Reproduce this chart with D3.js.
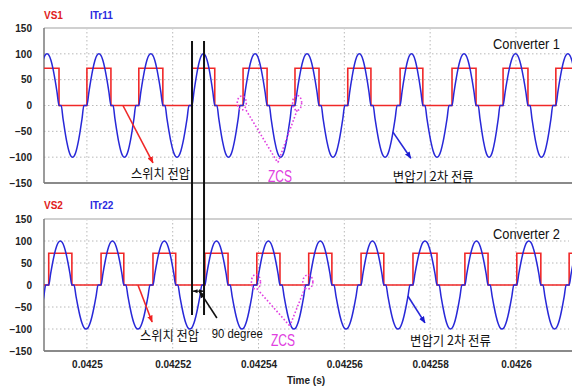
<!DOCTYPE html>
<html>
<head>
<meta charset="utf-8">
<script src="https://cdn.jsdelivr.net/npm/d3@7"></script>
<style>
  body { margin: 0; background: #fff; }
  svg { display: block; }
</style>
</head>
<body>
<div id="chart"></div>
<script>
// Axis ticks
const xTicks = [0.0425, 0.04252, 0.04254, 0.04256, 0.04258, 0.0426];
const xTickLabels = ["0.0425", "0.04252", "0.04254", "0.04256", "0.04258", "0.0426"];
const yTicks = [150, 100, 50, 0, -50, -100, -150];

// Switch voltage edges (seconds)
const vs1Rise = [0.0424879, 0.0425000, 0.0425121, 0.0425245, 0.0425364, 0.0425485, 0.0425608, 0.0425730, 0.0425851, 0.0425970, 0.0426093, 0.0426214];
const vs1Fall = [0.0424935, 0.0425056, 0.0425177, 0.0425298, 0.0425420, 0.0425541, 0.0425662, 0.0425783, 0.0425907, 0.0426028, 0.0426149, 0.0426270];
const vs2Rise = [0.0424790, 0.0424911, 0.0425033, 0.0425154, 0.0425275, 0.0425396, 0.0425517, 0.0425639, 0.0425760, 0.0425881, 0.0426002, 0.0426124];
const vs2Fall = [0.0424846, 0.0424965, 0.0425086, 0.0425207, 0.0425329, 0.0425450, 0.0425571, 0.0425692, 0.0425816, 0.0425935, 0.0426058, 0.0426180];
const vsHigh = 72;

// Transformer current: peak, zero-current dwell after/before the edges, one half-cycle shape
const iPeak = 100;
const zeroAfterFall = 0.0000005;
const zeroBeforeRise = 0.0000007;
const lobeShape = [0, 0.26, 0.5, 0.71, 0.87, 0.97, 1, 0.97, 0.87, 0.71, 0.5, 0.26, 0];

const W = 572, H = 387;
const left = 44, right = 569;

const svg = d3.select("#chart").append("svg")
  .attr("width", W).attr("height", H)
  .style("font-family", "'Liberation Sans', Arial, sans-serif");

const defs = svg.append("defs");
function marker(id, color, size) {
  defs.append("marker")
    .attr("id", id)
    .attr("viewBox", "0 0 10 10")
    .attr("refX", 9).attr("refY", 5)
    .attr("markerWidth", size).attr("markerHeight", size)
    .attr("markerUnits", "userSpaceOnUse")
    .attr("orient", "auto-start-reverse")
    .append("path")
    .attr("d", "M0,1 L10,5 L0,9 Z")
    .attr("fill", color);
}
marker("arrRed", "#f02020", 7);
marker("arrBlue", "#1a1ad0", 7);
marker("arrBlack", "#111", 7);
marker("arrSmall", "#111", 5);

const x = d3.scaleLinear().domain([0.04249, 0.0426126]).range([left, 570]);

const red = "#f02828", blue = "#2828d8", magenta = "#e040e0";

function vsPoints(rise, fall) {
  const pts = [];
  rise.forEach((r, i) => {
    pts.push([r, vsHigh]);
    pts.push([fall[i], 0]);
  });
  return pts;
}

function currentPoints(rise, fall) {
  const pts = [];
  const n = lobeShape.length - 1;
  rise.forEach((r, i) => {
    const f = fall[i];
    lobeShape.forEach((s, k) => pts.push([r + (f - r) * k / n, iPeak * s]));
    if (i + 1 < rise.length) {
      const a = f + zeroAfterFall, b = rise[i + 1] - zeroBeforeRise;
      lobeShape.forEach((s, k) => pts.push([a + (b - a) * k / n, -iPeak * s]));
    }
  });
  return pts;
}

const panels = [
  { top: 28, bottom: 183, rise: vs1Rise, fall: vs1Fall, vs: "VS1", it: "ITr11", name: "Converter 1", legendY: 19, nameY: 49 },
  { top: 219, bottom: 351, rise: vs2Rise, fall: vs2Fall, vs: "VS2", it: "ITr22", name: "Converter 2", legendY: 209, nameY: 239 }
];

panels.forEach((p, pi) => {
  const y = d3.scaleLinear().domain([-150, 150]).range([p.bottom, p.top]);
  p.y = y;
  const g = svg.append("g");

  // grid
  g.selectAll(".hg").data(yTicks.filter(v => Math.abs(v) < 150)).enter().append("line")
    .attr("x1", left).attr("x2", right)
    .attr("y1", d => y(d)).attr("y2", d => y(d))
    .attr("stroke", "#b8b8b8").attr("stroke-width", 1).attr("stroke-dasharray", "1.5,2.5");
  g.selectAll(".vg").data(xTicks).enter().append("line")
    .attr("x1", d => x(d)).attr("x2", d => x(d))
    .attr("y1", p.top).attr("y2", p.bottom)
    .attr("stroke", "#b8b8b8").attr("stroke-width", 1).attr("stroke-dasharray", "1.5,2.5");

  // frame
  g.append("line").attr("x1", left).attr("x2", 572).attr("y1", p.top).attr("y2", p.top)
    .attr("stroke", "#d0d0d0").attr("stroke-width", 2);
  g.append("line").attr("x1", left).attr("x2", 572).attr("y1", p.bottom).attr("y2", p.bottom)
    .attr("stroke", "#8a8a8a").attr("stroke-width", 2);
  g.append("line").attr("x1", left).attr("x2", left).attr("y1", p.top).attr("y2", p.bottom)
    .attr("stroke", "#7a7a7a").attr("stroke-width", 1.5);

  // y axis
  const ax = g.append("g").attr("transform", `translate(${left},0)`)
    .call(d3.axisLeft(y).tickValues(yTicks).tickSize(0).tickPadding(12));
  ax.select(".domain").remove();
  ax.selectAll("text").attr("font-size", 10).attr("font-weight", "bold")
    .attr("font-family", "'Liberation Sans', Arial, sans-serif").attr("fill", "#222");

  // clip
  defs.append("clipPath").attr("id", "clip" + pi).append("rect")
    .attr("x", left).attr("y", p.top - 1).attr("width", right - left + 3).attr("height", p.bottom - p.top + 2);

  const line = d3.line().x(d => x(d[0])).y(d => y(d[1]));
  const plot = g.append("g").attr("clip-path", `url(#clip${pi})`);
  plot.append("path")
    .attr("d", line.curve(d3.curveStepAfter)(vsPoints(p.rise, p.fall)))
    .attr("fill", "none").attr("stroke", red).attr("stroke-width", 1.6);
  plot.append("path")
    .attr("d", d3.line().x(d => x(d[0])).y(d => y(d[1])).curve(d3.curveMonotoneX)(currentPoints(p.rise, p.fall)))
    .attr("fill", "none").attr("stroke", blue).attr("stroke-width", 1.5);

  // legend
  svg.append("text").attr("x", left).attr("y", p.legendY).text(p.vs)
    .attr("font-size", 10).attr("font-weight", "bold").attr("fill", "#e02020");
  svg.append("text").attr("x", 90).attr("y", p.legendY).text(p.it)
    .attr("font-size", 10).attr("font-weight", "bold").attr("fill", "#2a2ae0");
  svg.append("text").attr("x", 493).attr("y", p.nameY).text(p.name)
    .attr("font-size", 14.5)
    .attr("textLength", 67).attr("lengthAdjust", "spacingAndGlyphs").attr("fill", "#111");
});

// x axis
const xa = svg.append("g").attr("transform", `translate(0,${panels[1].bottom})`)
  .call(d3.axisBottom(x).tickValues(xTicks).tickFormat((d, i) => xTickLabels[i]).tickSize(0).tickPadding(10));
xa.select(".domain").remove();
xa.selectAll("text").attr("font-size", 10).attr("font-weight", "bold")
  .attr("font-family", "'Liberation Sans', Arial, sans-serif").attr("fill", "#222");
svg.append("text").attr("x", 306).attr("y", 384).attr("text-anchor", "middle")
  .attr("font-size", 10).attr("font-weight", "bold").attr("fill", "#222").text("Time (s)");

// annotations, in data coordinates of each panel
const yT = panels[0].y, yB = panels[1].y;
const kfont = "'Noto Sans CJK KR', sans-serif";

function arrow(x1, y1, x2, y2, color, mk, dash) {
  svg.append("line").attr("x1", x1).attr("y1", y1).attr("x2", x2).attr("y2", y2)
    .attr("stroke", color).attr("stroke-width", 1.6)
    .attr("marker-end", mk ? `url(#${mk})` : null)
    .attr("stroke-dasharray", dash || null);
}
function label(txt, x0, y0, size, len, color, family) {
  svg.append("text").attr("x", x0).attr("y", y0).text(txt)
    .attr("font-size", size).attr("textLength", len).attr("lengthAdjust", "spacingAndGlyphs")
    .attr("fill", color).attr("font-family", family || null);
}
function ellipse(cx, cy, rx, ry) {
  svg.append("ellipse").attr("cx", cx).attr("cy", cy).attr("rx", rx).attr("ry", ry)
    .attr("fill", "none").attr("stroke", magenta).attr("stroke-width", 1.6)
    .attr("stroke-dasharray", "1.6,2");
}

// top panel
arrow(x(0.0425084), yT(0), x(0.0425154), yT(-111), red, "arrRed");
label("스위치 전압", x(0.0425103), yT(-140), 13, 59, "#111", kfont);
ellipse(x(0.0425361), yT(5), 4.5, 7);
ellipse(x(0.0425490), yT(5), 4.5, 7.5);
arrow(x(0.0425371), yT(-9), x(0.0425445), yT(-111), magenta, null, "1.6,2");
arrow(x(0.0425490), yT(-9), x(0.0425445), yT(-111), magenta, null, "1.6,2");
label("ZCS", x(0.0425450) - 12, yT(-148), 16, 24, magenta);
arrow(x(0.0425713), yT(-51), x(0.0425755), yT(-102), blue, "arrBlue");
label("변압기 2차 전류", x(0.0425713), yT(-146), 13, 81, "#111", kfont);

// bottom panel
arrow(x(0.0425119), yB(0), x(0.0425152), yB(-84), red, "arrRed");
label("스위치 전압", x(0.0425124), yB(-125), 13, 59, "#111", kfont);
ellipse(x(0.0425394), yB(7), 4.5, 7.5);
ellipse(x(0.0425515), yB(7), 5, 7);
arrow(x(0.0425403), yB(-16), x(0.0425473), yB(-93), magenta, null, "1.6,2");
arrow(x(0.0425508), yB(-7), x(0.0425473), yB(-93), magenta, null, "1.6,2");
label("ZCS", x(0.0425457) - 12, yB(-139), 16, 24, magenta);
arrow(x(0.0425748), yB(-25), x(0.0425788), yB(-86), blue, "arrBlue");
label("변압기 2차 전류", x(0.0425753), yB(-136), 13, 81, "#111", kfont);

// 90 degree marker between VS1 and VS2 rising edges
[0.0425245, 0.0425273].forEach(t => {
  svg.append("line").attr("x1", x(t)).attr("x2", x(t)).attr("y1", yT(125)).attr("y2", yB(-68))
    .attr("stroke", "#111").attr("stroke-width", 2);
});
svg.append("line").attr("x1", x(0.0425245) + 1).attr("x2", x(0.0425273) - 1)
  .attr("y1", yB(-14)).attr("y2", yB(-14))
  .attr("stroke", "#111").attr("stroke-width", 1.2)
  .attr("marker-start", "url(#arrSmall)").attr("marker-end", "url(#arrSmall)");
arrow(x(0.0425303), yB(-75), x(0.0425263), yB(-15), "#111", "arrBlack");
label("90 degree", x(0.0425291), yB(-120), 12, 51, "#111");
</script>
</body>
</html>
